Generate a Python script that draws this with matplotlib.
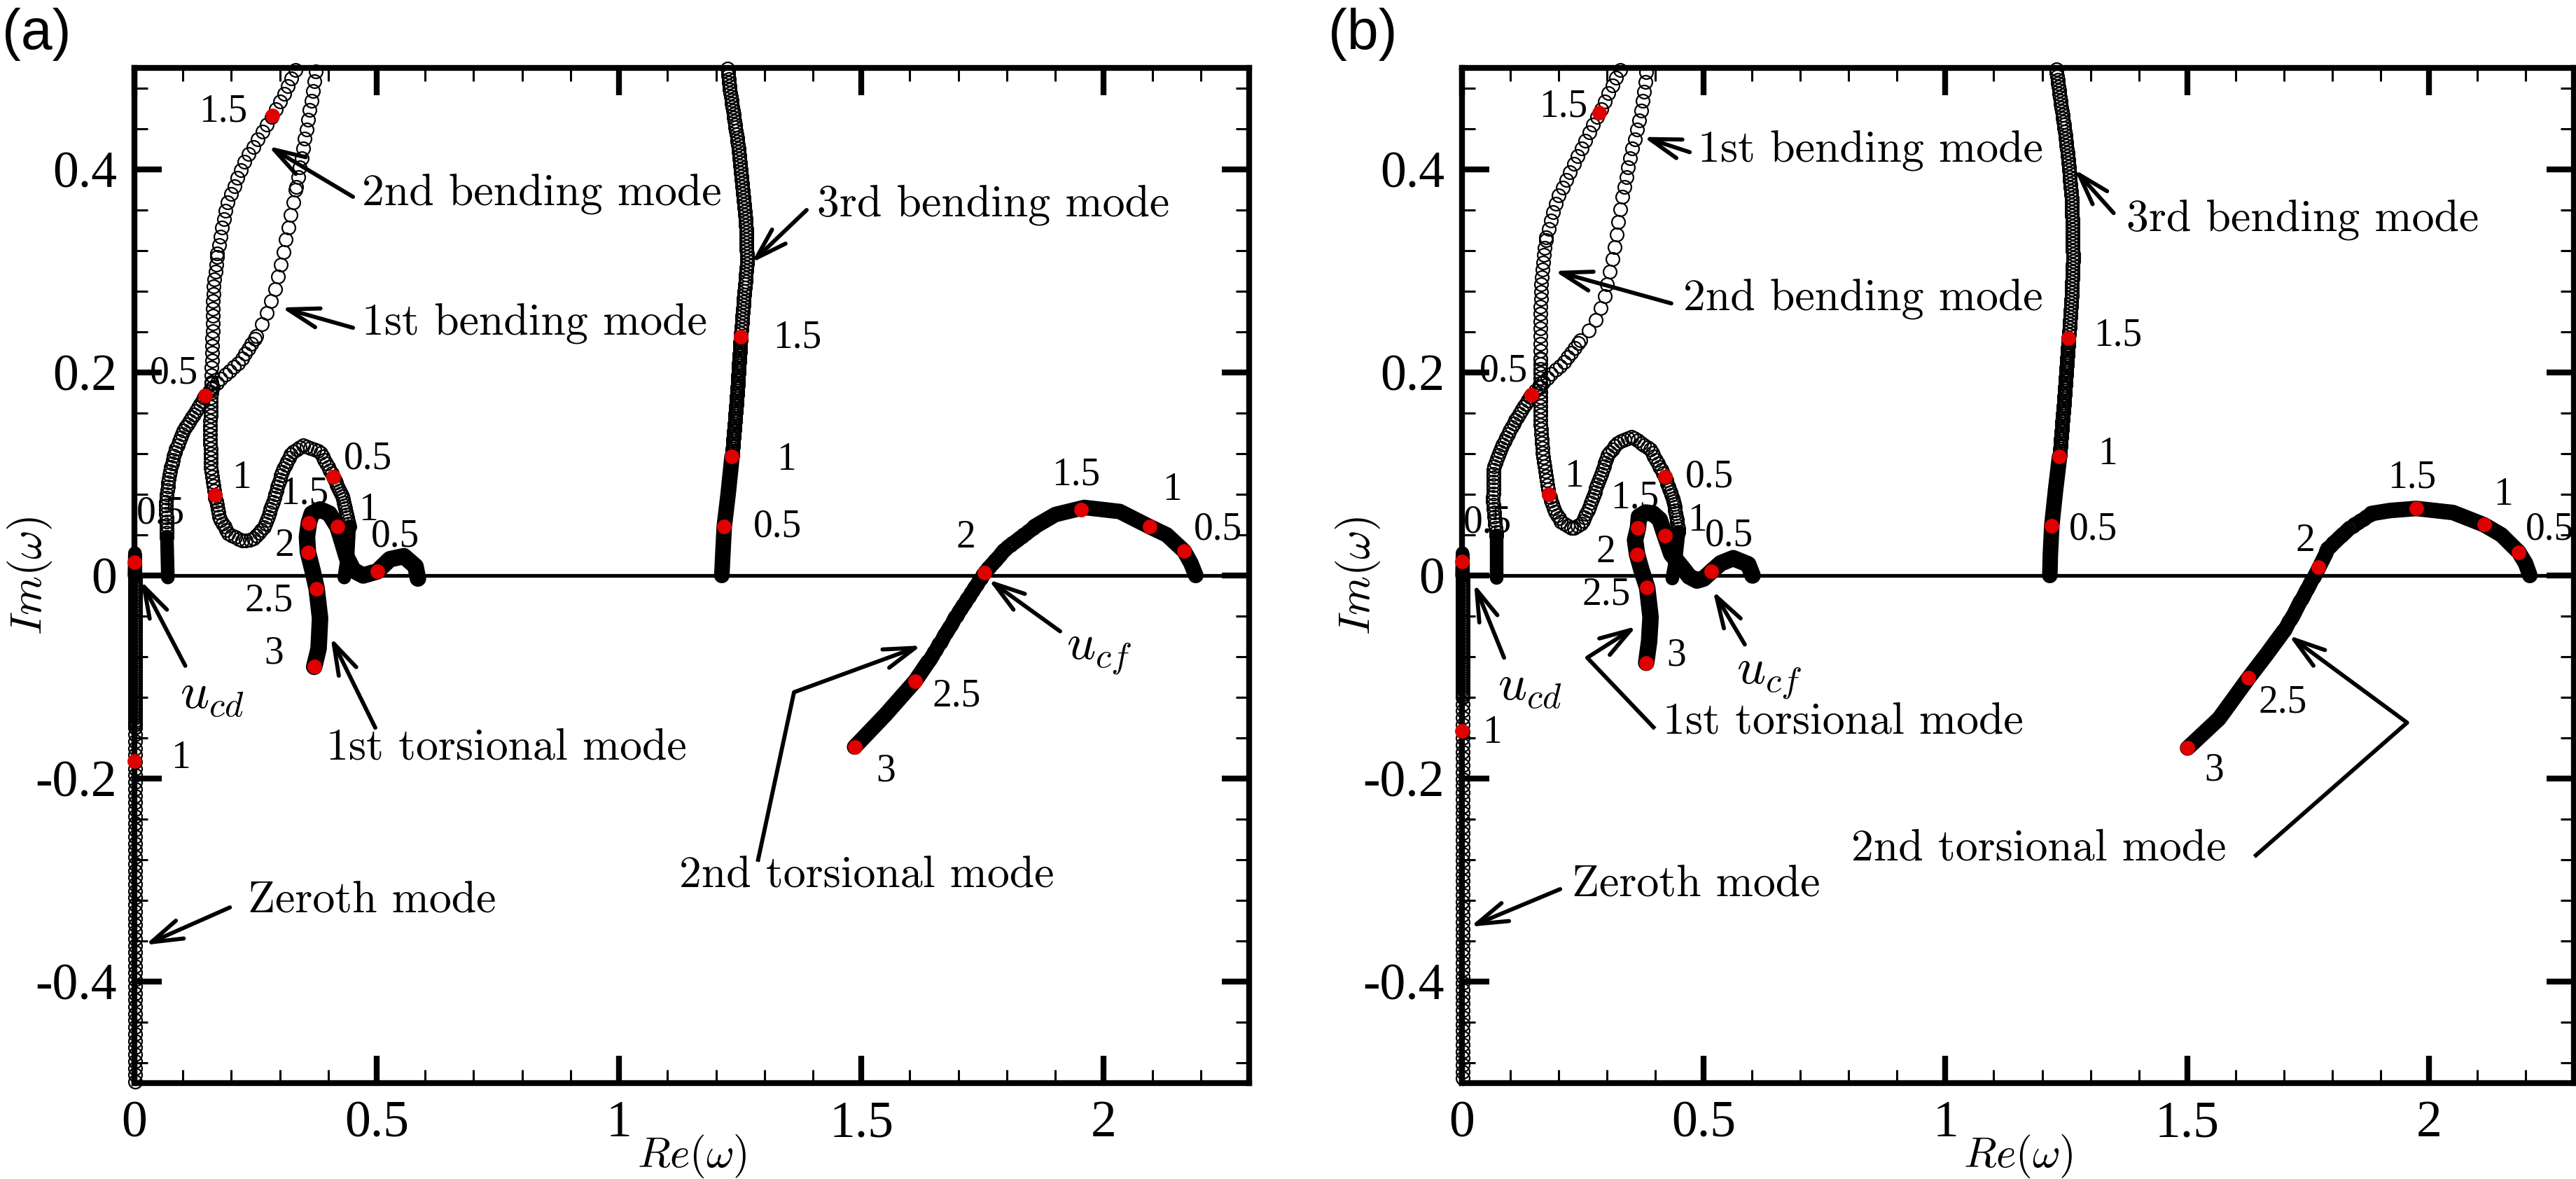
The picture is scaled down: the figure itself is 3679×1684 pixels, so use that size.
import numpy as np
import matplotlib
matplotlib.use('Agg')
import matplotlib.pyplot as plt
from matplotlib.patheffects import AbstractPathEffect
from matplotlib.path import Path
from matplotlib.transforms import Affine2D, IdentityTransform

plt.rcParams['font.family'] = ['Liberation Serif', 'DejaVu Serif']
plt.rcParams['mathtext.fontset'] = 'cm'

# ---------------- panel (a): eigenvalue loci (Re, Im)
a_zeroth = [(0.000, 0.000), (0.001, 0.022), (0.002, 0.013), (0.002, 0.000),
            (0.002, -0.150), (0.001, -0.183), (0.001, -0.330), (0.001, -0.500)]
a_bend1 = [(0.069, -0.002), (0.067, 0.038), (0.065, 0.072), (0.072, 0.100), (0.084, 0.123),
           (0.103, 0.144), (0.127, 0.162), (0.146, 0.177), (0.180, 0.195), (0.219, 0.211),
           (0.252, 0.236), (0.276, 0.262), (0.291, 0.282), (0.305, 0.312), (0.319, 0.346),
           (0.334, 0.383), (0.348, 0.420), (0.363, 0.462), (0.373, 0.491), (0.376, 0.500)]
a_bend2 = [(0.433, -0.002), (0.440, 0.020), (0.443, 0.048), (0.431, 0.075), (0.411, 0.097),
           (0.383, 0.122), (0.348, 0.128), (0.325, 0.121), (0.305, 0.103), (0.286, 0.072),
           (0.267, 0.047), (0.245, 0.036), (0.224, 0.034), (0.194, 0.041), (0.175, 0.057),
           (0.166, 0.079), (0.158, 0.107), (0.156, 0.142), (0.158, 0.176), (0.159, 0.190),
           (0.161, 0.236), (0.163, 0.282), (0.171, 0.317), (0.190, 0.365), (0.228, 0.409),
           (0.285, 0.453), (0.310, 0.475), (0.334, 0.500)]
a_tors1 = [(0.585, -0.003), (0.580, 0.009), (0.556, 0.019), (0.527, 0.016), (0.501, 0.004),
           (0.472, 0.000), (0.452, 0.005), (0.438, 0.018), (0.428, 0.034), (0.419, 0.048),
           (0.402, 0.061), (0.383, 0.065), (0.366, 0.061), (0.360, 0.052), (0.356, 0.038),
           (0.358, 0.023), (0.368, 0.004), (0.376, -0.013), (0.383, -0.042), (0.380, -0.072),
           (0.371, -0.090)]
a_bend3 = [(1.212, 0.000), (1.214, 0.020), (1.217, 0.048), (1.225, 0.080), (1.233, 0.117),
           (1.243, 0.175), (1.251, 0.235), (1.258, 0.275), (1.264, 0.308), (1.262, 0.345),
           (1.254, 0.385), (1.247, 0.419), (1.236, 0.455), (1.228, 0.480), (1.224, 0.500)]
a_tors2 = [(2.190, 0.000), (2.180, 0.012), (2.166, 0.024), (2.130, 0.040), (2.095, 0.048),
           (2.033, 0.063), (1.960, 0.067), (1.900, 0.060), (1.857, 0.048), (1.796, 0.026),
           (1.754, 0.003), (1.699, -0.037), (1.638, -0.085), (1.611, -0.104), (1.550, -0.137),
           (1.486, -0.169)]

# flow velocities 0.5, 1, 1.5 ... marked in red
a_dots = [(0.000, 0.013), (0.000, -0.183), (0.146, 0.177),
          (0.411, 0.097), (0.166, 0.079), (0.285, 0.453),
          (0.501, 0.004), (0.419, 0.048), (0.360, 0.052), (0.358, 0.023), (0.376, -0.013), (0.371, -0.090),
          (1.217, 0.048), (1.233, 0.117), (1.251, 0.235),
          (2.166, 0.024), (2.095, 0.048), (1.954, 0.065), (1.754, 0.003), (1.611, -0.104), (1.486, -0.169)]
a_vel_labels = [('0.5', 0.004, 0.061), ('1', 0.076, -0.180), ('0.5', 0.032, 0.199),
                ('0.5', 0.432, 0.115), ('1', 0.201, 0.096), ('1.5', 0.133, 0.457),
                ('0.5', 0.488, 0.038), ('1', 0.462, 0.064), ('1.5', 0.300, 0.080),
                ('2', 0.289, 0.029), ('2.5', 0.228, -0.025), ('3', 0.267, -0.077),
                ('0.5', 1.277, 0.048), ('1', 1.325, 0.114), ('1.5', 1.318, 0.234),
                ('0.5', 2.186, 0.045), ('1', 2.121, 0.084), ('1.5', 1.893, 0.099),
                ('2', 1.696, 0.037), ('2.5', 1.647, -0.119), ('3', 1.530, -0.193)]
a_notes = [('2nd bending mode', (0.470, 0.375), [(0.451, 0.373), (0.276, 0.423)]),
           ('1st bending mode', (0.470, 0.248), [(0.451, 0.244), (0.303, 0.264)]),
           ('3rd bending mode', (1.409, 0.364), [(1.387, 0.360), (1.273, 0.308)]),
           ('2nd torsional mode', (1.124, -0.296), [(1.286, -0.282), (1.361, -0.115), (1.624, -0.069)]),
           ('1st torsional mode', (0.396, -0.171), [(0.497, -0.150), (0.405, -0.061)]),
           ('Zeroth mode', (0.234, -0.321), [(0.197, -0.327), (0.022, -0.364)])]
a_crit = [(r'$u_{cd}$', (0.160, -0.119), [(0.105, -0.089), (0.013, -0.005)]),
          (r'$u_{cf}$', (1.990, -0.077), [(1.910, -0.055), (1.762, -0.004)])]

# ---------------- panel (b)
b_zeroth = [(0.000, 0.000), (0.001, 0.022), (0.002, 0.014), (0.002, 0.000),
            (0.002, -0.120), (0.001, -0.153), (0.001, -0.330), (0.001, -0.500)]
b_bend1 = [(0.071, -0.002), (0.071, 0.039), (0.064, 0.073), (0.066, 0.108), (0.090, 0.135),
           (0.114, 0.156), (0.143, 0.178), (0.187, 0.200), (0.206, 0.207), (0.245, 0.232),
           (0.274, 0.248), (0.293, 0.271), (0.307, 0.301), (0.317, 0.328), (0.326, 0.356),
           (0.336, 0.383), (0.346, 0.409), (0.361, 0.437), (0.372, 0.462), (0.380, 0.490),
           (0.382, 0.500)]
b_bend2 = [(0.435, -0.003), (0.442, 0.016), (0.448, 0.043), (0.438, 0.073), (0.420, 0.097),
           (0.390, 0.124), (0.351, 0.137), (0.322, 0.131), (0.302, 0.119), (0.283, 0.094),
           (0.268, 0.073), (0.249, 0.052), (0.230, 0.046), (0.206, 0.052), (0.191, 0.064),
           (0.180, 0.080), (0.167, 0.119), (0.162, 0.154), (0.162, 0.214), (0.162, 0.259),
           (0.165, 0.297), (0.174, 0.333), (0.196, 0.370), (0.235, 0.409), (0.284, 0.456),
           (0.329, 0.500)]
b_tors1 = [(0.601, 0.000), (0.592, 0.011), (0.561, 0.017), (0.535, 0.012), (0.516, 0.004),
           (0.500, -0.003), (0.486, -0.005), (0.470, -0.001), (0.457, 0.007), (0.433, 0.021),
           (0.420, 0.039), (0.409, 0.055), (0.395, 0.061), (0.380, 0.062), (0.366, 0.058),
           (0.364, 0.047), (0.358, 0.035), (0.362, 0.021), (0.372, 0.004), (0.383, -0.012),
           (0.390, -0.041), (0.387, -0.065), (0.381, -0.086)]
b_bend3 = [(1.216, 0.000), (1.217, 0.020), (1.220, 0.049), (1.228, 0.085), (1.236, 0.117),
           (1.246, 0.175), (1.255, 0.234), (1.261, 0.275), (1.264, 0.310), (1.263, 0.340),
           (1.261, 0.371), (1.255, 0.405), (1.248, 0.433), (1.238, 0.468), (1.229, 0.500)]
b_tors2 = [(2.209, 0.000), (2.200, 0.012), (2.186, 0.023), (2.150, 0.040), (2.114, 0.050),
           (2.050, 0.062), (1.974, 0.066), (1.920, 0.064), (1.881, 0.061), (1.836, 0.047),
           (1.791, 0.027), (1.772, 0.008), (1.740, -0.020), (1.701, -0.054), (1.664, -0.078),
           (1.627, -0.101), (1.566, -0.141), (1.501, -0.170)]

b_dots = [(0.000, 0.014), (0.000, -0.153), (0.143, 0.178),
          (0.420, 0.097), (0.180, 0.080), (0.284, 0.456),
          (0.516, 0.004), (0.420, 0.039), (0.364, 0.047), (0.362, 0.021), (0.383, -0.012), (0.381, -0.086),
          (1.220, 0.049), (1.236, 0.117), (1.255, 0.234),
          (2.186, 0.023), (2.114, 0.050), (1.974, 0.066), (1.772, 0.008), (1.627, -0.101), (1.501, -0.170)]
b_vel_labels = [('0.5', 0.003, 0.052), ('1', 0.042, -0.155), ('0.5', 0.036, 0.201),
                ('1', 0.211, 0.097), ('0.5', 0.462, 0.097), ('1.5', 0.159, 0.462),
                ('1.5', 0.307, 0.076), ('2', 0.278, 0.023), ('2.5', 0.249, -0.019),
                ('3', 0.423, -0.079), ('1', 0.467, 0.054), ('0.5', 0.503, 0.039),
                ('1.5', 1.306, 0.236), ('1', 1.316, 0.119), ('0.5', 1.255, 0.045),
                ('0.5', 2.200, 0.045), ('1', 2.134, 0.079), ('1.5', 1.915, 0.096),
                ('2', 1.724, 0.034), ('2.5', 1.648, -0.125), ('3', 1.536, -0.192)]
b_notes = [('1st bending mode', (0.488, 0.418), [(0.471, 0.417), (0.375, 0.432)]),
           ('2nd bending mode', (0.458, 0.272), [(0.433, 0.268), (0.191, 0.300)]),
           ('3rd bending mode', (1.374, 0.350), [(1.348, 0.357), (1.267, 0.400)]),
           ('1st torsional mode', (0.415, -0.145), [(0.399, -0.151), (0.259, -0.081), (0.361, -0.050)]),
           ('2nd torsional mode', (0.806, -0.270), [(1.639, -0.277), (1.955, -0.145), (1.710, -0.059)]),
           ('Zeroth mode', (0.228, -0.305), [(0.203, -0.309), (0.017, -0.346)])]
b_crit = [(r'$u_{cd}$', (0.140, -0.111), [(0.087, -0.081), (0.025, -0.008)]),
          (r'$u_{cf}$', (0.635, -0.101), [(0.585, -0.068), (0.519, -0.015)])]

x_ticks = [0, 0.5, 1, 1.5, 2]
x_ticklabels = ['0', '0.5', '1', '1.5', '2']
y_ticks = [-0.4, -0.2, 0, 0.2, 0.4]
y_ticklabels = ['-0.4', '-0.2', '0', '0.2', '0.4']


class RingChain(AbstractPathEffect):
    """Stroke a path as a chain of open circles (like a dense symbol line)."""

    def __init__(self, gap, size=6.8, edge=0.8):
        super().__init__()
        self.gap, self.size, self.edge = gap, size, edge

    def draw_path(self, renderer, gc, tpath, affine, rgbFace=None):
        pts = affine.transform(tpath.vertices)
        step = renderer.points_to_pixels(self.gap)
        centres, left = [], 0.0
        for p0, p1 in zip(pts[:-1], pts[1:]):
            seg = np.hypot(*(p1 - p0))
            if seg == 0:
                continue
            t = left
            while t <= seg:
                centres.append(p0 + (p1 - p0) * t / seg)
                t += step
            left = t - seg
        if not centres:
            return
        gc0 = renderer.new_gc()
        gc0.copy_properties(gc)
        gc0.set_linewidth(self.edge)
        r = renderer.points_to_pixels(self.size) / 2
        renderer.draw_markers(gc0, Path.unit_circle(), Affine2D().scale(r),
                              Path(np.array(centres)), IdentityTransform())
        gc0.restore()


# how each locus is drawn: (first index, last index, kind, width or ring gap)
a_style = {'zeroth': [(0, 3, 'solid', 7), (3, 4, 'rings', 1.2), (4, 7, 'rings', 3.5)],
           'bend1': [(0, 1, 'solid', 7), (1, 7, 'rings', 2.0), (7, 10, 'rings', 3.0),
                     (10, 15, 'rings', 6.5), (15, 19, 'rings', 5.0)],
           'bend2': [(0, 2, 'solid', 7), (2, 4, 'rings', 1.6), (4, 15, 'rings', 2.0),
                     (15, 19, 'rings', 2.4), (19, 22, 'rings', 3.8), (22, 27, 'rings', 4.5)],
           'tors1': [(0, 20, 'solid', 8.5)],
           'bend3': [(0, 4, 'solid', 8), (4, 6, 'rings', 1.0), (6, 14, 'rings', 1.8)],
           'tors2': [(0, 8, 'solid', 8), (8, 12, 'rings', 0.8), (12, 15, 'solid', 8)]}
b_style = {'zeroth': [(0, 3, 'solid', 7), (3, 4, 'rings', 1.2), (4, 7, 'rings', 3.5)],
           'bend1': [(0, 1, 'solid', 7), (1, 6, 'rings', 2.0), (6, 9, 'rings', 3.0),
                     (9, 15, 'rings', 6.5), (15, 20, 'rings', 5.0)],
           'bend2': [(0, 2, 'solid', 7), (2, 4, 'rings', 1.6), (4, 15, 'rings', 2.0),
                     (15, 18, 'rings', 2.4), (18, 21, 'rings', 3.8), (21, 25, 'rings', 4.5)],
           'tors1': [(0, 22, 'solid', 8.5)],
           'bend3': [(0, 4, 'solid', 8), (4, 6, 'rings', 1.0), (6, 14, 'rings', 1.8)],
           'tors2': [(0, 8, 'solid', 8), (8, 13, 'rings', 0.8), (13, 17, 'solid', 8)]}

arrow_style = dict(arrowstyle='->,head_length=0.8,head_width=0.25', color='k', lw=2.1,
                   shrinkA=0, shrinkB=0, mutation_scale=20)


def draw_panel(ax, modes, style, dots, vel_labels, notes, crit):
    ax.axhline(0, color='k', lw=1.9, zorder=1.5)
    for name, pts in modes.items():
        pts = np.array(pts)
        for i0, i1, kind, val in style[name]:
            seg = pts[i0:i1 + 1]
            if kind == 'solid':
                ax.plot(seg[:, 0], seg[:, 1], color='k', lw=val, solid_capstyle='round',
                        solid_joinstyle='round', clip_on=False, zorder=2)
            else:
                ax.plot(seg[:, 0], seg[:, 1], color='k', lw=0.5, clip_on=False, zorder=2,
                        path_effects=[RingChain(val)])
    d = np.array(dots)
    ax.plot(d[:, 0], d[:, 1], 'o', color='#e00000', ms=7.5, mec='none', zorder=3, clip_on=False)
    for txt, x, y in vel_labels:
        ax.text(x, y, txt, fontsize=20, ha='left', va='center', zorder=4)
    for txt, (tx, ty), path in notes:
        ax.text(tx, ty, txt, family='cmr10', fontsize=23, ha='left', va='center', zorder=4)
        if len(path) > 2:
            p = np.array(path[:-1])
            ax.plot(p[:, 0], p[:, 1], color='k', lw=2.1, solid_capstyle='butt', zorder=4)
        ax.annotate('', xy=path[-1], xytext=path[-2], arrowprops=arrow_style, zorder=4)
    for txt, (tx, ty), path in crit:
        ax.text(tx, ty, txt, fontsize=26, ha='center', va='center', zorder=4)
        ax.annotate('', xy=path[-1], xytext=path[-2], arrowprops=arrow_style, zorder=4)

    ax.set_xlim(0, 2.3)
    ax.set_ylim(-0.5, 0.5)
    ax.set_xticks(x_ticks, x_ticklabels)
    ax.set_yticks(y_ticks, y_ticklabels)
    ax.set_xticks(np.arange(0, 2.31, 0.1), minor=True)
    ax.set_yticks(np.arange(-0.48, 0.49, 0.04), minor=True)
    ax.tick_params(which='both', direction='in', top=True, right=True, labelsize=26.5)
    ax.tick_params(which='major', length=14, width=3, pad=9)
    ax.tick_params(which='minor', length=7, width=1.1)
    for s in ax.spines.values():
        s.set_linewidth(3)
    ax.set_xlabel(r'$Re(\omega)$', fontsize=22)
    ax.set_ylabel(r'$Im(\omega)$', fontsize=23)
    ax.xaxis.label.set_va('baseline')
    ax.yaxis.label.set_va('center')
    ax.xaxis.set_label_coords(0.5, -0.083)
    ax.yaxis.set_label_coords(-0.0936, 0.5)


fig = plt.figure(figsize=(18.4, 8.42), dpi=200)
ax1 = fig.add_axes([0.05217, 0.0814, 0.4326, 0.861])
ax2 = fig.add_axes([0.5674, 0.0814, 0.4315, 0.861])

draw_panel(ax1, {'zeroth': a_zeroth, 'bend1': a_bend1, 'bend2': a_bend2, 'tors1': a_tors1,
                 'bend3': a_bend3, 'tors2': a_tors2},
           a_style, a_dots, a_vel_labels, a_notes, a_crit)
draw_panel(ax2, {'zeroth': b_zeroth, 'bend1': b_bend1, 'bend2': b_bend2, 'tors1': b_tors1,
                 'bend3': b_bend3, 'tors2': b_tors2},
           b_style, b_dots, b_vel_labels, b_notes, b_crit)

fig.text(0.0008, 0.971, '(a)', family='Liberation Sans', fontsize=29, ha='left', va='center')
fig.text(0.5155, 0.971, '(b)', family='Liberation Sans', fontsize=29, ha='left', va='center')

fig.savefig('out.png', dpi=200)
